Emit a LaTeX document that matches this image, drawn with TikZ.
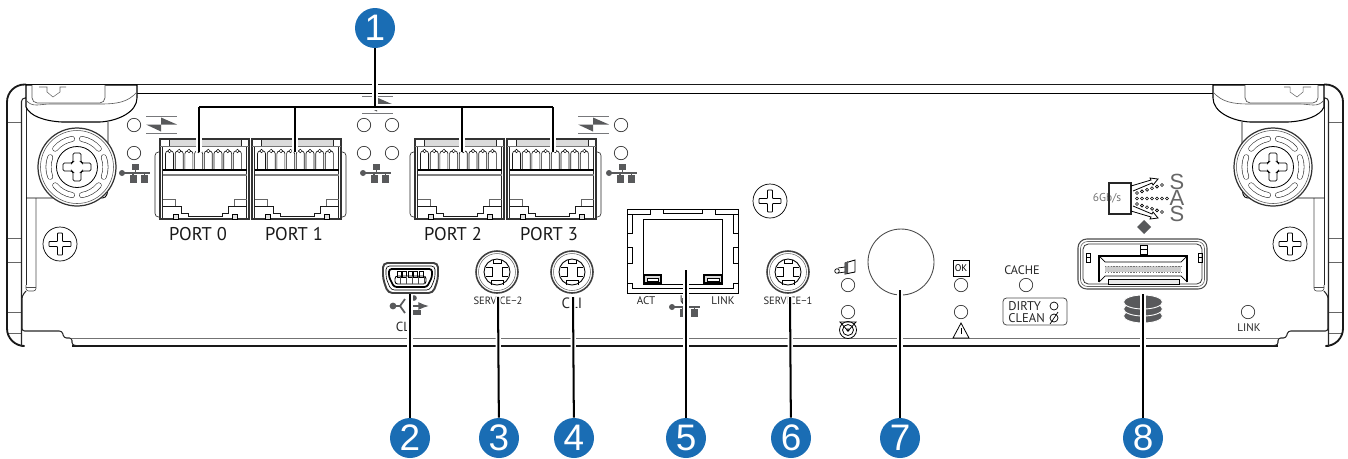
\documentclass[tikz,border=0pt]{standalone}
\usepackage{fontspec}
\setmainfont{PT Sans}
\newfontfamily\calloutfont{Liberation Sans}
\usetikzlibrary{arrows.meta}
\definecolor{calloutblue}{HTML}{1A6DB4}
\definecolor{symgray}{HTML}{58595B}
\definecolor{linegray}{HTML}{77787B}
\tikzset{
  callout/.style={circle, fill=calloutblue, text=white, minimum size=40*0.02cm, inner sep=0pt, font=\calloutfont\fontsize{21}{21}\selectfont},
  leader/.style={draw=black, line width=1.15pt, preaction={draw=white, line width=3pt}},
  label/.style={inner sep=0pt, text=black!85, font=\fontsize{6.3}{7}\selectfont},
  portlabel/.style={inner sep=0pt, text=black!90, font=\fontsize{10.5}{12}\selectfont},
  sasletter/.style={inner sep=0pt, align=center, text=black!60, font=\calloutfont\fontsize{12.5}{9.3}\selectfont},
  thin line/.style={line width=0.35pt, draw=black!85},
  heavy line/.style={line width=1.05pt, draw=black!90},
  pics/led/.style={code={\draw[line width=0.4pt, draw=black!80, fill=white] (0,0) circle[radius=6.7];}},
  pics/smallscrew/.style={code={
    \draw[line width=0.4pt, fill=white] (0,0) circle[radius=17];
    \draw[line width=0.45pt, rounded corners=0.4pt] (-2.5,-11) -- (2.5,-11) -- (2.5,-2.5) -- (11,-2.5) -- (11,2.5) -- (2.5,2.5) -- (2.5,11) -- (-2.5,11) -- (-2.5,2.5) -- (-11,2.5) -- (-11,-2.5) -- (-2.5,-2.5) -- cycle;
  }},
  pics/bigscrew/.style={code={
    \draw[line width=0.7pt, draw=black!80, fill=white] (0,0) circle[radius=39];
    \draw[line width=0.3pt, draw=black!70] (0,0) circle[radius=36.5];
    \draw[line width=0.45pt] (0,0) circle[radius=20.5];
    \foreach \a in {0,60,...,300}
      \draw[line width=0.35pt, line cap=round, draw=black!80, double=white, double distance=2.6pt] ({28.5*cos(\a-20)},{28.5*sin(\a-20)}) arc[start angle=\a-20, end angle=\a+20, radius=28.5];
    \draw[line width=0.45pt, rounded corners=0.8pt] (-4,-14) -- (4,-14) -- (4,-5) -- (5,-4) -- (14,-4) -- (14,4) -- (5,4) -- (4,5) -- (4,14) -- (-4,14) -- (-4,5) -- (-5,4) -- (-14,4) -- (-14,-4) -- (-5,-4) -- (-4,-5) -- cycle;
  }},
  pics/netsym/.style={code={
    \fill[symgray] (-3,-9) rectangle (4,-3);
    \fill[symgray] (-5,2) rectangle (1.5,10);
    \fill[symgray] (6,2) rectangle (13,10);
    \draw[line width=1pt, draw=symgray] (-12,0) -- (15,0);
    \draw[line width=0.9pt, draw=symgray] (0.5,-3) -- (0.5,0) (-2,0) -- (-2,3) (9.5,0) -- (9.5,3);
    \fill[symgray] (-13,0) circle[radius=3];
  }},
  pics/linkdir/.style={code={
    \draw[line width=0.55pt, draw=linegray] (0,0) -- (31,0) (0,17) -- (31,17);
    \fill[symgray] (15,1.5) -- (31,8.5) -- (15,8.5) -- cycle;
    \fill[symgray] (0,8.5) -- (15,8.5) -- (15,15.5) -- cycle;
  }},
  pics/lug/.style={code={
    \draw[thin line, rounded corners=2pt] (0,13) -- (-5,13) -- (-5,78) -- (0,78);
  }},
  pics/cage/.style={code={
    \draw[line width=0.6pt, draw=black!80, fill=white] (0,0) rectangle (89,80);
    \fill[black!14] (9,0.5) rectangle (81,6.5);
    \draw[thin line] (9,0.5) -- (9,6.5) (81,6.5) -- (81,0.5);
    \draw[line width=0.7pt, draw=black!55] (0,7.5) -- (89,7.5);
    \draw[line width=0.7pt, draw=black!85] (2.5,8) -- (2.5,79) (86.5,8) -- (86.5,79);
    \foreach \i in {0,...,7} {
      \draw[line width=0.38pt, draw=black!90, rounded corners=1.5pt] ({5.5+\i*9.7},31) -- ({5.5+\i*9.7},12) -- ({13.5+\i*9.7},12) -- ({13.5+\i*9.7},31);
      \draw[line width=0.25pt, fill=white] ({9.5+\i*9.7},12) circle[radius=1.8];
    }
    \draw[line width=0.7pt] (2.5,31) -- (86.5,31);
    \draw[line width=0.8pt, draw=black!50] (2.5,36) -- (86.5,36);
    \draw[line width=0.3pt, draw=black!60] (2.5,60) -- (15,60) -- (15,67) (86.5,60) -- (74,60) -- (74,67);
    \draw[line width=0.45pt, draw=black!90] (2.5,67) -- (21.5,67) -- (21.5,74) -- (28,74) -- (28,77.5) -- (62,77.5) -- (62,74) -- (68,74) -- (68,67) -- (86.5,67);
    \draw[line width=0.45pt, fill=black!12] (13,75) rectangle (18,80);
    \draw[line width=0.45pt, fill=black!12] (72,75) rectangle (77,80);
  }},
  pics/jack/.style={code={
    \draw[line width=0.9pt, draw=black!75, fill=white] (0,0) circle[radius=21];
    \draw[line width=0.3pt, draw=black!60] (0,0) circle[radius=18.5];
    \draw[line width=0.5pt] (0,0) circle[radius=13];
    \draw[line width=0.4pt] (-11,-5) -- (-5,-5) -- (-5,4) -- (-11,4) (11,-5) -- (5,-5) -- (5,4) -- (11,4);
    \draw[line width=0.4pt] (-6,13) -- (-6,8) -- (6,8) -- (6,13) (-4,-12.5) -- (-4,-9) -- (4,-9) -- (4,-12.5);
  }},
}
\begin{document}
\begin{tikzpicture}[x=0.02cm, y=-0.02cm, >={Latex[length=2mm]}]
	\useasboundingbox (0,0) rectangle (1348,458);
	\draw[heavy line] (25,84.5) -- (1325,84.5);
	\draw[line width=0.5pt] (137,93) -- (1213,93);
	\draw[heavy line] (72,346) -- (1278,346);
	\draw[line width=0.45pt, draw=black!55] (72,338) -- (1278,338);
	\foreach \side/\sx/\ox in {l/1/0,r/-1/1350} {
		\begin{scope}[shift={(\ox,0)}, xscale=\sx]
			\draw[line width=0.3pt, draw=black!60] (7,122) -- (21,122) (7,238) -- (21,238) (7,262) -- (21,262) (7,312) -- (21,312) (7,333) -- (21,333);
			\draw[heavy line, rounded corners=10pt] (26,84.5) -- (7,84.5) -- (7,346) -- (21.5,346);
			\draw[line width=0.6pt, draw=black!85, rounded corners=2pt] (26,98) -- (21.5,98) -- (21.5,346);
			\draw[line width=0.45pt, draw=black!85] (26,98) -- (26,285);
			\draw[line width=0.6pt, draw=black!85, rounded corners=1.5pt] (26,291) -- (22,296) -- (22,331) -- (62,331) -- (64,338) -- (72,338) -- (72,345) -- (80,346);
			\draw[line width=0.35pt, draw=black!70, rounded corners=1.5pt] (26,285) -- (26,291) -- (36,291) -- (36,198);
			\draw[line width=0.35pt, draw=black!70] (26,287) -- (36,287);
			\draw[line width=0.5pt, rounded corners=2pt] (26,198) -- (106,198) -- (108,190) -- (108,122);
			\draw[line width=0.6pt, fill=white] (26,85) -- (26,107) .. controls (30,116) and (44,121) .. (62,122) -- (100,122) .. controls (118,121) and (137,112) .. (137,98) -- (137,85) -- cycle;
			\draw[line width=0.35pt, draw=black!65] (26,100) .. controls (32,108) and (40,104) .. (50,104) -- (100,104) .. controls (118,104) and (128,102) .. (137,92);
			\draw[line width=0.4pt, draw=black!65, rounded corners=3pt, fill=white] (32,85) -- (32,103) -- (105,103) -- (105,85);
			\draw[line width=0.3pt, draw=black!60] (39,87) -- (47,87) -- (47,92) -- (53,97) -- (60,92) -- (60,87) -- (66,87);
			\pic at (77,167) {bigscrew};
			\pic at (60,244) {smallscrew};
		\end{scope}
	}
	\pic at (770,201) {smallscrew};
	\foreach \x/\y in {134/125,134/153,364/125,392/125,364/153,392/153,621/125,621/153,848/285,848/312,961/285,961/312,1026/285}
		\pic at (\x,\y) {led};
	\pic at (146,116) {linkdir};
	\pic at (362,96) {linkdir};
	\pic at (578,116) {linkdir};
	\pic at (135,173) {netsym};
	\pic at (376,173) {netsym};
	\pic at (622,173) {netsym};
	\pic at (685,307) {netsym};
	\pic at (160,139) {lug};
	\pic at (415,139) {lug};
	\pic[xscale=-1] at (341,139) {lug};
	\pic[xscale=-1] at (596,139) {lug};
	\foreach \x in {160,252,415,507}
		\pic at (\x,139) {cage};
	\node[portlabel] (port0) at (198,234) {PORT 0};
	\node[portlabel] (port1) at (294,234) {PORT 1};
	\node[portlabel] (port2) at (453,234) {PORT 2};
	\node[portlabel] (port3) at (549,234) {PORT 3};
	\draw[line width=1.1pt, draw=black!75, rounded corners=2.5pt] (383,263) -- (438,263) -- (438,279) -- (433,293) -- (388,293) -- (383,279) -- cycle;
	\draw[line width=0.35pt, rounded corners=2pt] (386,266) -- (435,266) -- (435,278) -- (430,290) -- (391,290) -- (386,278) -- cycle;
	\draw[line width=1pt, rounded corners=1.5pt] (389,269) -- (432,269) -- (432,277) -- (427,287) -- (394,287) -- (389,277) -- cycle;
	\foreach \x in {397,402.5,408,413.5,419}
		\draw[line width=0.35pt] (\x,271) rectangle (\x+4,277);
	\draw[line width=0.5pt, rounded corners=1.5pt] (395,276) rectangle (426,284);
	\foreach \x in {400,406,...,424}
		\draw[line width=0.3pt, draw=black!70] (\x,276) -- (\x,284);
	\fill[symgray] (393,306) circle[radius=3.4];
	\draw[line width=1pt, draw=symgray] (393,306) -- (400,306) -- (405,299) (400,306) -- (405,313);
	\fill[symgray] (414,298) circle[radius=2.8];
	\fill[symgray] (413,310) rectangle (421,315);
	\draw[->, line width=0.9pt, draw=symgray, >={Latex[length=6pt]}] (413,306) -- (429,306);
	\node[label, font=\fontsize{7.5}{8}\selectfont] (cliusb) at (405,327) {CLI};
	\pic at (497,272) {jack};
	\pic at (572,272) {jack};
	\pic at (788,272) {jack};
	\node[label, font=\fontsize{6}{7}\selectfont] (svc2) at (498,301) {SERVICE−2};
	\node[label, font=\fontsize{6}{7}\selectfont] (svc1) at (788,301) {SERVICE−1};
	\node[label, font=\fontsize{8.5}{9}\selectfont] (cliport) at (572,303) {CLI};
	\draw[line width=0.55pt] (627,209) rectangle (738,293);
	\draw[line width=0.4pt] (627,214) -- (632,214) -- (632,233) -- (627,233) (627,247) -- (632,247) -- (632,263) -- (627,263) (627,283) -- (632,283) -- (632,288) -- (733,288) -- (733,283) -- (738,283) (738,263) -- (733,263) -- (733,247) -- (738,247) (738,233) -- (733,233) -- (733,214) -- (738,214);
	\draw[line width=0.4pt] (632,214) -- (650,214) -- (650,209) (663,209) -- (663,213) -- (702,213) -- (702,209) (715,209) -- (715,214) -- (733,214);
	\draw[line width=0.5pt] (643,219) rectangle (722,284);
	\draw[line width=0.7pt, fill=black!15] (644,275) rectangle (661,283);
	\draw[line width=0.7pt, fill=black!15] (704,275) rectangle (722,283);
	\draw[line width=0.3pt, fill=white] (647,278) rectangle (658,281);
	\draw[line width=0.3pt, fill=white] (707,278) rectangle (719,281);
	\node[label] (act) at (646,301) {ACT};
	\node[label] (link) at (723,301) {LINK};
	\node[label] (lanmark) at (685,300) {UI};
	\draw[line width=0.5pt, draw=black!70] (901,262) circle[radius=33];
	\draw[line width=0.5pt, fill=white] (845,263) -- (855,260) -- (855,272) -- (845,274) -- cycle;
	\fill[symgray] (845,263) -- (848,261) -- (848,273) -- (845,274) -- cycle;
	\draw[line width=0.4pt] (845,267) -- (838,268) (845,272) -- (838,273);
	\draw[line width=0.4pt] (837,271) circle[radius=2.3];
	\draw[line width=0.45pt] (848,330) circle[radius=8.5] (848,330) circle[radius=5.5];
	\fill[symgray] (848,330) circle[radius=1.8];
	\draw[line width=0.45pt] (840,322) -- (856,322) -- (848,331) -- cycle;
	\node[draw, line width=0.45pt, inner sep=0pt, minimum size=16*0.02cm, font=\fontsize{5.5}{6}\selectfont] (okbox) at (961,268) {OK};
	\draw[line width=0.45pt] (961,323) -- (953,338) -- (969,338) -- cycle;
	\draw[line width=0.5pt] (961,328) -- (961,334);
	\node[label, font=\fontsize{7}{8}\selectfont] (cache) at (1022,270) {CACHE};
	\draw[line width=0.45pt, draw=black!70, rounded corners=2pt] (1003,298) rectangle (1067,325);
	\node[label, anchor=west, font=\fontsize{7.2}{8}\selectfont] (dirty) at (1008,306) {DIRTY};
	\node[label, anchor=west, font=\fontsize{7.2}{8}\selectfont] (clean) at (1008,318) {CLEAN};
	\draw[line width=0.4pt] (1054,306) circle[radius=4] (1054,318) circle[radius=4];
	\draw[line width=0.4pt] (1050,324) -- (1058,312);
	\node[label, text=black!55, font=\fontsize{6.5}{7}\selectfont] (speed) at (1107,198) {6Gb/s};
	\draw[line width=0.8pt, draw=black!85] (1109,183) rectangle (1131,214);
	\foreach \i in {0,...,5} {
		\draw[line width=0.35pt] ({1137+\i*5},{193-\i*1.6}) circle[radius=1.5];
		\draw[line width=0.35pt] ({1137+\i*5},{204+\i*1.6}) circle[radius=1.5];
	}
	\foreach \i in {0,...,6}
		\draw[line width=0.35pt] ({1137+\i*5},198.5) circle[radius=1.5];
	\draw[line width=0.45pt] (1131,186) -- (1151,180) -- (1150,178) -- (1158,179) -- (1153,185) -- (1152,183) -- (1133,191);
	\draw[line width=0.45pt] (1131,211) -- (1151,217) -- (1150,219) -- (1158,218) -- (1153,212) -- (1152,214) -- (1133,206);
	\node[sasletter] (saslabel) at (1177,198) {S\\A\\S};
	\fill[symgray] (1144,220) -- (1151,227) -- (1144,234) -- (1137,227) -- cycle;
	\draw[line width=0.6pt, draw=black!70, rounded corners=5pt] (1078,239) rectangle (1207,289);
	\draw[line width=0.35pt, draw=black!60, rounded corners=4pt] (1080.5,241.5) rectangle (1204.5,286.5);
	\draw[line width=0.45pt, draw=black!80, rounded corners=3pt] (1083,244) rectangle (1202,284);
	\draw[line width=0.6pt] (1099,282) -- (1099,256) -- (1187,256) -- (1187,282);
	\draw[line width=0.4pt] (1099,256) -- (1105,262) -- (1181,262) -- (1187,256) (1099,282) -- (1105,276) -- (1181,276) -- (1187,282);
	\fill[black!20] (1105,266) rectangle (1181,272);
	\draw[line width=0.35pt, draw=black!55, dash pattern=on 0.8pt off 0.8pt] (1105,266) -- (1181,266) (1105,272) -- (1181,272);
	\draw[line width=0.35pt, fill=black!8] (1108,279) rectangle (1179,284);
	\draw[line width=0.5pt, fill=white] (1140,245) rectangle (1147,254);
	\draw[line width=0.4pt] (1140,249) -- (1147,249);
	\draw[line width=0.4pt] (1086,253) rectangle (1090,262) (1086,257) -- (1090,257);
	\draw[line width=0.4pt] (1198,253) rectangle (1202,262) (1198,257) -- (1202,257);
	\foreach \y in {316,309,302}
		\draw[line width=0.5pt, draw=white, fill=symgray] (1143,\y) ellipse[x radius=19.5, y radius=7];
	\pic at (1248,312) {led};
	\node[label] (linklan) at (1249,328) {LINK};
	\node[callout] (c1) at (375,28) {1};
	\node[callout] (c2) at (410,438) {2};
	\node[callout] (c3) at (499,438) {3};
	\node[callout] (c4) at (574,438) {4};
	\node[callout] (c5) at (686,438) {5};
	\node[callout] (c6) at (791,438) {6};
	\node[callout] (c7) at (900,438) {7};
	\node[callout] (c8) at (1143,438) {8};
	\coordinate (bus) at (375,107);
	\coordinate (d0) at (199,107);
	\coordinate (d1) at (295,107);
	\coordinate (d2) at (462,107);
	\coordinate (d3) at (553,107);
	\coordinate (t0) at (199,152);
	\coordinate (t1) at (295,152);
	\coordinate (t2) at (462,152);
	\coordinate (t3) at (553,152);
	\coordinate (usb) at (410,294);
	\coordinate (svctwo) at (498,297);
	\coordinate (clijack) at (573,297);
	\coordinate (lan) at (686,270);
	\coordinate (svcone) at (790,297);
	\coordinate (blank) at (900,290);
	\coordinate (sas) at (1143,294);
	\draw[leader] (c1) -- (bus) (d0) -- (d3) (d0) -- (t0) (d1) -- (t1) (d2) -- (t2) (d3) -- (t3);
	\draw[leader] (c2) -- (usb);
	\draw[leader] (c3) -- (svctwo);
	\draw[leader] (c4) -- (clijack);
	\draw[leader] (c5) -- (lan);
	\draw[leader] (c6) -- (svcone);
	\draw[leader] (c7) -- (blank);
	\draw[leader] (c8) -- (sas);
\end{tikzpicture}
\end{document}
